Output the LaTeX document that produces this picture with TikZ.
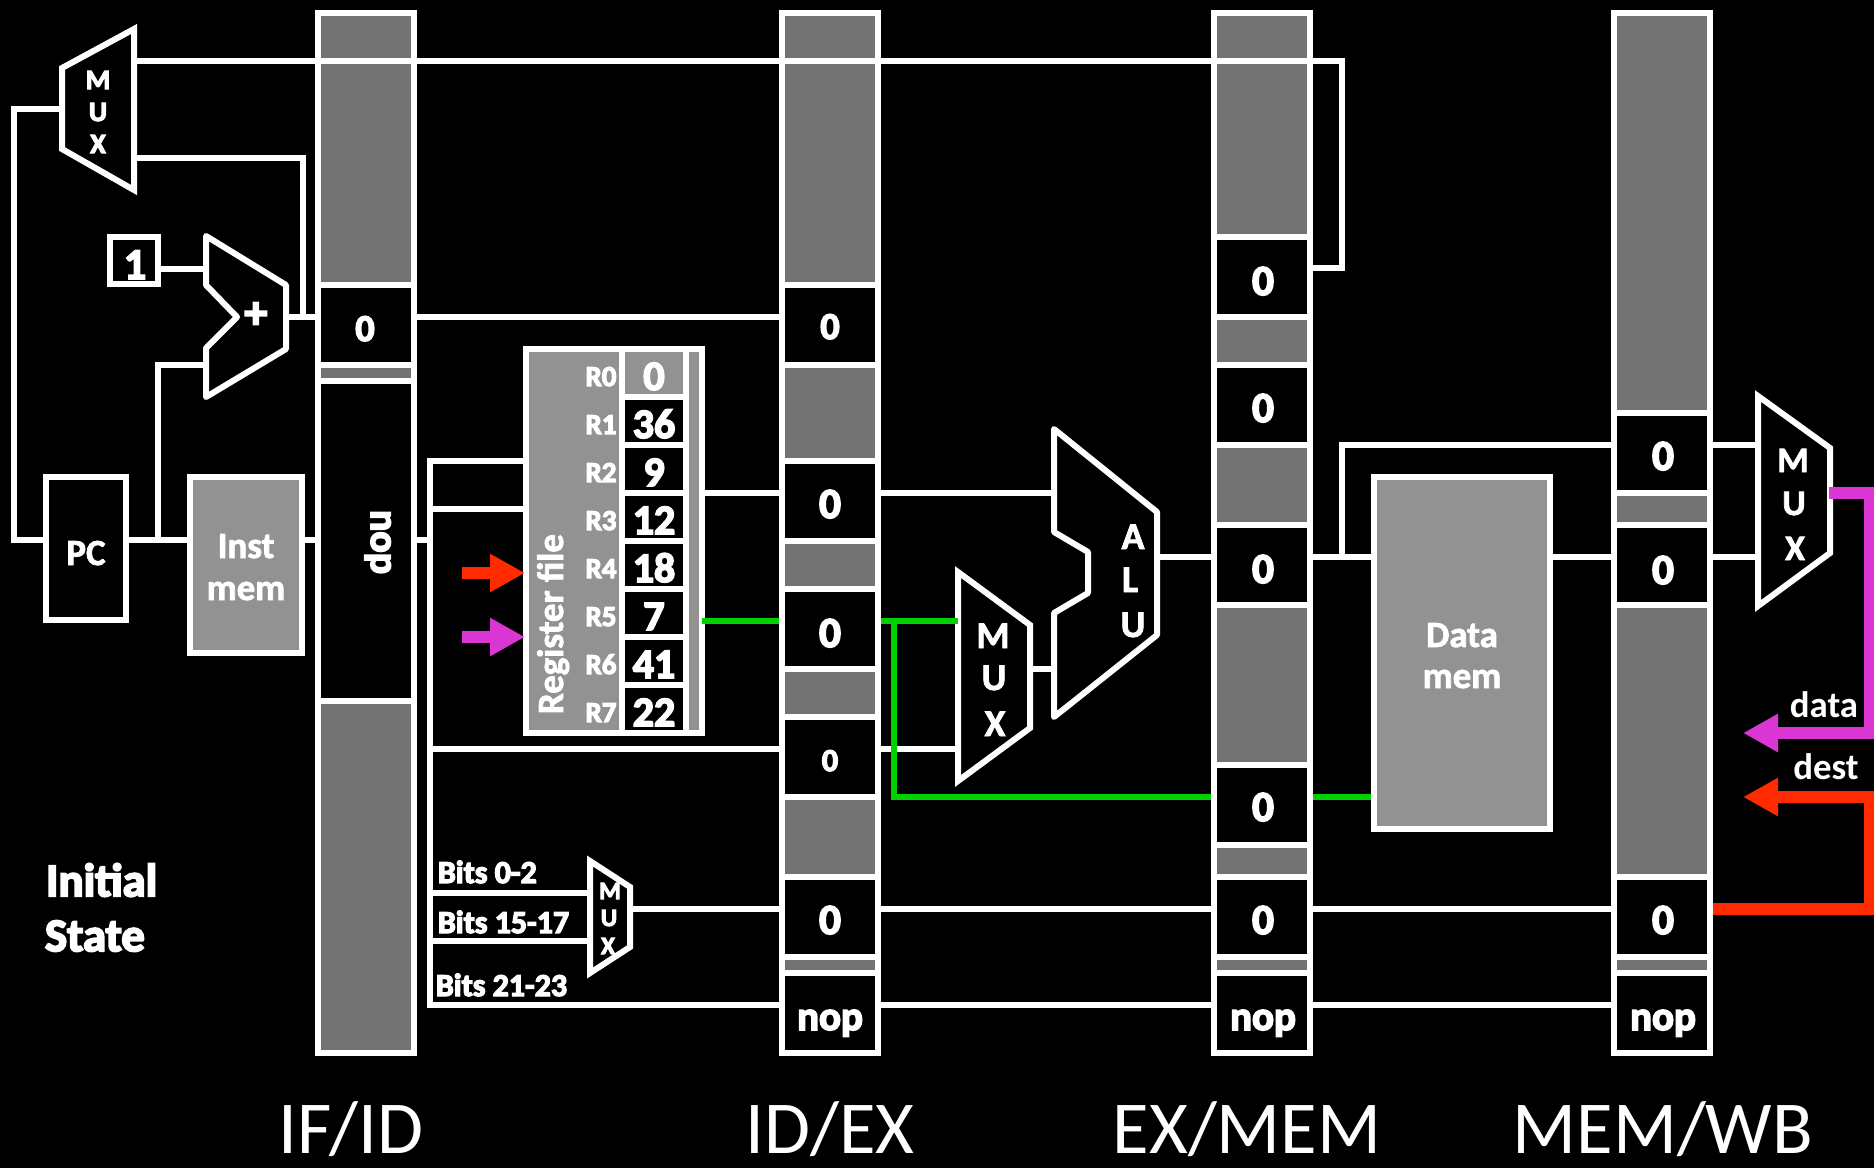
\documentclass[tikz,border=0pt]{standalone}
\usepackage{fontspec}
\usetikzlibrary{arrows.meta}
\setmainfont{Carlito}
\newfontfamily\fatfont[FakeBold=4]{Carlito Bold}
\newfontfamily\boldfont[FakeBold=2]{Carlito Bold}
\newfontfamily\semifont{Carlito Bold}
\definecolor{pipegray}{HTML}{737373}
\definecolor{unitgray}{HTML}{929292}
\definecolor{redw}{HTML}{FF2A00}
\definecolor{magw}{HTML}{D936D4}
\definecolor{greenw}{HTML}{00D100}
\newcommand\fs[1]{\fontsize{#1}{#1}\selectfont}
\tikzset{
  x=1bp,y=-1bp,
  boxline/.style={draw=white,line width=6bp,inner sep=0pt,outer sep=0pt},
  column/.style={boxline,fill=pipegray,minimum width=96bp,minimum height=1040bp},
  regcell/.style={boxline,fill=black,minimum width=96bp,minimum height=80bp},
  unit/.style={boxline,fill=unitgray},
  plainbox/.style={boxline,fill=black},
  wire/.style={draw=white,line width=6bp,line join=miter},
  gwire/.style={draw=greenw,line width=6bp},
  bigwire/.style={line width=12bp,-{Triangle[length=35bp,width=36bp]}},
  poly/.style={draw=white,line width=6bp,fill=black,line join=miter},
  rpoly/.style={draw=white,line width=6bp,fill=black,line join=round},
  txt/.style={text=white,inner sep=0pt,outer sep=0pt,anchor=base,font=\fatfont},
}
\begin{document}
\begin{tikzpicture}
\path[use as bounding box,fill=black] (0,0) rectangle (1874,1168);
% pipeline columns
\node[column] (ifid) at (366,533) {};
\node[column] (idex) at (830,533) {};
\node[column] (exmem) at (1262,533) {};
\node[column] (memwb) at (1662,533) {};
% IF/ID
\node[regcell] (ifidA) at (366,325) {};
\node[regcell,minimum height=320bp] (ifidN) at (366,541) {};
% ID/EX
\node[regcell] (idexA) at (830,325) {};
\node[regcell] (idexB) at (830,501) {};
\node[regcell] (idexC) at (830,629) {};
\node[regcell] (idexD) at (830,757) {};
\node[regcell] (idexE) at (830,917) {};
\node[regcell] (idexN) at (830,1013) {};
% EX/MEM
\node[regcell] (exA) at (1262,277) {};
\node[regcell] (exB) at (1262,405) {};
\node[regcell] (exC) at (1262,565) {};
\node[regcell] (exD) at (1262,805) {};
\node[regcell] (exE) at (1262,917) {};
\node[regcell] (exN) at (1262,1013) {};
% MEM/WB
\node[regcell] (wbA) at (1662,453) {};
\node[regcell] (wbB) at (1662,565) {};
\node[regcell] (wbE) at (1662,917) {};
\node[regcell] (wbN) at (1662,1013) {};
% units
\node[plainbox,minimum width=80bp,minimum height=143bp] (pc) at (86,548.5) {};
\node[unit,minimum width=112bp,minimum height=176bp] (imem) at (246,565) {};
\node[plainbox,minimum width=48bp,minimum height=47bp] (one) at (134,260.5) {};
\node[unit,minimum width=176bp,minimum height=352bp] (dmem) at (1462,653) {};
\node[unit,minimum width=176bp,minimum height=384bp] (reg) at (614,541) {};
\node[draw=white,line width=6bp,fill=unitgray,minimum width=64bp,minimum height=48bp,inner sep=0pt,outer sep=0pt] (r0) at (654,373) {};
\foreach \n/\yy in {1/421,2/469,3/517,4/565,5/613,6/661,7/709}
  \node[plainbox,minimum width=64bp,minimum height=48bp] (r\n) at (654,\yy) {};
% polygons
\draw[poly] (62,68) -- (134,29) -- (134,190) -- (62,149) -- cycle;
\draw[rpoly] (206,236) -- (286,285) -- (286,349) -- (206,397) -- (206,348) -- (237,317) -- (206,285) -- cycle;
\draw[poly] (590,861) -- (630,887) -- (630,947) -- (590,973) -- cycle;
\draw[poly] (958,572) -- (1030,625) -- (1030,728) -- (958,781) -- cycle;
\draw[rpoly] (1054,429) -- (1157,512) -- (1157,635) -- (1054,717) -- (1054,613) -- (1088,593) -- (1088,552) -- (1054,532) -- cycle;
\draw[poly] (1758,396) -- (1830,448) -- (1830,553) -- (1758,606) -- cycle;
\coordinate (muxaOut) at (134,61);
\coordinate (muxaB) at (134,157.5);
\coordinate (muxaIn) at (62,109);
\coordinate (addOut) at (286,317);
\coordinate (addA) at (206,269);
\coordinate (addB) at (206,365);
\coordinate (busTop) at (430,461);
\coordinate (busBot) at (430,1005);
% wires
\draw[wire] (muxaOut) -- (1342,61) -- (1342,268) -- (exA.east |- 0,268);
\draw[wire] (muxaB) -- (302.5,157.5) -- (302.5,317);
\draw[wire] (addOut) -- (ifidA.west |- 0,317);
\draw[wire] (ifidA.east |- 0,317) -- (idexA.west |- 0,317);
\draw[wire] (muxaIn) -- (14,109) -- (14,540) -- (pc.west |- 0,540);
\draw[wire] (pc.east |- 0,540) -- (imem.west |- 0,540);
\draw[wire] (158,540) -- (158,365) -- (addB);
\draw[wire] (one.east |- 0,269) -- (addA);
\draw[wire] (imem.east |- 0,540) -- (ifidN.west |- 0,540);
\draw[wire] (ifidN.east |- 0,540) -- (430,540);
\draw[wire] (reg.west |- 0,461) -- (busTop) -- (busBot) -- (idexN.west |- 0,1005);
\draw[wire] (430,509) -- (reg.west |- 0,509);
\draw[wire] (430,749) -- (idexD.west |- 0,749);
\draw[wire] (430,893) -- (590,893);
\draw[wire] (430,941) -- (590,941);
\draw[wire] (630,909) -- (idexE.west |- 0,909);
\draw[wire] (idexE.east |- 0,909) -- (exE.west |- 0,909);
\draw[wire] (exE.east |- 0,909) -- (wbE.west |- 0,909);
\draw[wire] (idexN.east |- 0,1005) -- (exN.west |- 0,1005);
\draw[wire] (exN.east |- 0,1005) -- (wbN.west |- 0,1005);
\draw[wire] (reg.east |- 0,493) -- (idexB.west |- 0,493);
\draw[wire] (idexB.east |- 0,493) -- (1054,493);
\draw[wire] (idexD.east |- 0,749) -- (958,749);
\draw[wire] (1030,669) -- (1054,669);
\draw[wire] (1157,557) -- (exC.west |- 0,557);
\draw[wire] (exC.east |- 0,557) -- (dmem.west |- 0,557);
\draw[wire] (1342,557) -- (1342,445) -- (wbA.west |- 0,445);
\draw[wire] (wbA.east |- 0,445) -- (1758,445);
\draw[wire] (dmem.east |- 0,557) -- (wbB.west |- 0,557);
\draw[wire] (wbB.east |- 0,557) -- (1758,557);
% green wires
\draw[gwire,shorten >=3bp] (reg.east |- 0,621) -- (idexC.west |- 0,621);
\draw[gwire,shorten <=3bp] (idexC.east |- 0,621) -- (958,621);
\draw[gwire,shorten >=3bp] (894,621) -- (894,797) -- (exD.west |- 0,797);
\draw[gwire,shorten <=3bp,shorten >=3bp] (exD.east |- 0,797) -- (dmem.west |- 0,797);
% big coloured wires
\draw[bigwire,draw=magw] (1829,492.5) -- (1870,492.5) -- (1870,733) -- (1743,733);
\draw[bigwire,draw=redw,shorten <=3bp] (wbE.east |- 0,909) -- (1870,909) -- (1870,797) -- (1743,797);
\coordinate (rfR) at (525,573);
\coordinate (rfM) at (525,637);
\draw[bigwire,draw=redw] (462,573) -- (rfR);
\draw[bigwire,draw=magw] (462,637) -- (rfM);
% text
\node[txt,font=\fatfont\fs{38}] (tA0) at (365,341) {0};
\node[txt,font=\fatfont\fs{40},rotate=-90] (tNop) at (371,542) {nop};
\foreach \nm/\xx/\yy/\ss in {a/830/339/38,b/830/518/43,c/830/647/43,d/830/771/32,e/830/934/43,
  f/1263/295/43,g/1263/422/43,h/1263/583/43,i/1263/821/43,j/1263/934/43,
  k/1663/470/43,l/1663/584/43,m/1663/934/43}
  \node[txt,font=\fatfont\fs{\ss}] (z\nm) at (\xx,\yy) {0};
\foreach \nm/\xx in {a/830,b/1263,c/1663}
  \node[txt,font=\fatfont\fs{41}] (nop\nm) at (\xx,1030) {nop};
\node[txt,font=\boldfont\fs{37}] (tPC) at (86,565) {PC};
\node[txt,font=\boldfont\fs{37}] (tI1) at (246,558) {Inst};
\node[txt,font=\boldfont\fs{37}] (tI2) at (246,600) {mem};
\node[txt,font=\boldfont\fs{37}] (tD1) at (1462,647) {Data};
\node[txt,font=\boldfont\fs{37}] (tD2) at (1462,688) {mem};
\node[txt,font=\fatfont\fs{44}] (tOne) at (135,279) {1};
\node[txt,font=\fatfont\fs{46}] (tPlus) at (256,328) {+};
\node[txt,anchor=west,font=\fatfont\fs{47}] (tIni) at (46,880) {Initial};
\node[txt,anchor=west,font=\fatfont\fs{47}] (tSta) at (45,936) {State};
\foreach \nm/\ll/\yy in {a/M/89,b/U/121,c/X/153}
  \node[txt,font=\fatfont\fs{28}] (mA\nm) at (98,\yy) {\ll};
\foreach \nm/\ll/\xx/\yy in {a/M/610/899,b/U/609/926,c/X/608/954}
  \node[txt,font=\fatfont\fs{25}] (mB\nm) at (\xx,\yy) {\ll};
\foreach \nm/\ll/\xx/\yy in {a/M/993/648,b/U/994/690,c/X/995/736}
  \node[txt,font=\boldfont\fs{38}] (mC\nm) at (\xx,\yy) {\ll};
\foreach \nm/\ll/\xx/\yy in {a/M/1793/472,b/U/1794/515,c/X/1795/560}
  \node[txt,font=\boldfont\fs{36}] (mD\nm) at (\xx,\yy) {\ll};
\foreach \nm/\ll/\xx/\yy in {a/A/1133/549,b/L/1130/592,c/U/1133/637}
  \node[txt,font=\boldfont\fs{38}] (al\nm) at (\xx,\yy) {\ll};
\node[txt,anchor=base west,font=\fatfont\fs{32}] (b1) at (438,883) {Bits 0-2};
\node[txt,anchor=base west,font=\fatfont\fs{32}] (b2) at (438,933) {Bits 15-17};
\node[txt,anchor=base west,font=\fatfont\fs{32}] (b3) at (436,996) {Bits 21-23};
\node[txt,anchor=base west,rotate=90,font=\boldfont\fs{37}] (rf) at (563,714) {Register file};
\foreach \i/\val/\yy in {0/0/390,1/36/438,2/9/486,3/12/534,4/18/582,5/7/630,6/41/678,7/22/726}
  \node[txt,font=\fatfont\fs{42}] (v\i) at (654,\yy) {\val};
\foreach \i/\yy in {0/386,1/434,2/482,3/530,4/578,5/626,6/674,7/722}
  \node[txt,font=\fatfont\fs{29}] (l\i) at (601,\yy) {R\i};
\node[txt,anchor=base,font=\semifont\fs{37}] (tData) at (1824,717) {data};
\node[txt,anchor=base,font=\semifont\fs{37}] (tDest) at (1826,779) {dest};
\foreach \nm/\tt/\xx in {a/IF\slash ID/351,b/ID\slash EX/830,c/EX\slash MEM/1247,d/MEM\slash WB/1663}
  \node[txt,font=\rmfamily\fs{75}] (st\nm) at (\xx,1153) {\tt};
\end{tikzpicture}
\end{document}
